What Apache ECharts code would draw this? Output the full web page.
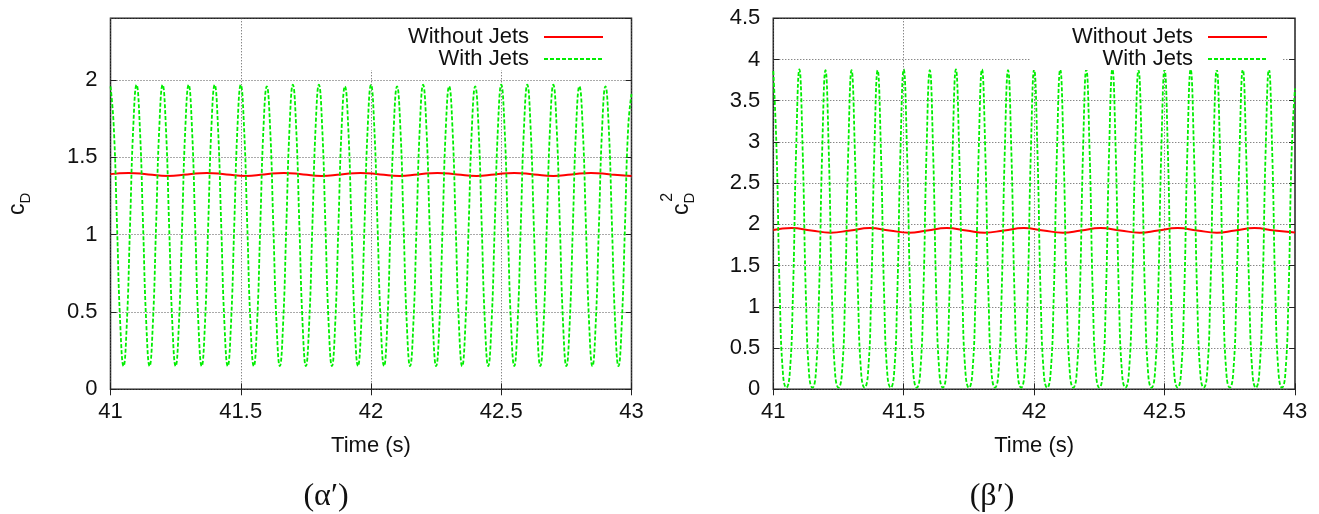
<!DOCTYPE html>
<html><head><meta charset="utf-8">
<script src="https://cdn.jsdelivr.net/npm/echarts/dist/echarts.min.js"></script>
<style>html,body{margin:0;padding:0;background:#fff}#c{width:1319px;height:514px}</style>
</head><body><div id="c"></div><script>
// ---- data ----
const timeRange = [41, 43];
const timeNoJets = [41, 41.07, 41.145, 41.22, 41.295, 41.37, 41.445, 41.52, 41.59, 41.665, 41.74, 41.81, 41.885, 41.96,
  42.035, 42.11, 42.18, 42.255, 42.33, 42.405, 42.475, 42.55, 42.625, 42.7, 42.77, 42.845, 42.92, 43];
const cdNoJets = [1.392, 1.400, 1.390, 1.380, 1.390, 1.400, 1.390, 1.380, 1.390, 1.400, 1.390, 1.380, 1.390, 1.400,
  1.390, 1.380, 1.390, 1.400, 1.390, 1.380, 1.390, 1.400, 1.390, 1.380, 1.390, 1.400, 1.390, 1.380];
const cd2NoJets = [1.932, 1.955, 1.927, 1.900, 1.927, 1.955, 1.927, 1.900, 1.927, 1.955, 1.927, 1.900, 1.927, 1.955,
  1.927, 1.900, 1.927, 1.955, 1.927, 1.900, 1.927, 1.955, 1.927, 1.900, 1.927, 1.955, 1.927, 1.902];
const timeJets = [
  41, 41.0125, 41.025, 41.0375, 41.05, 41.0625, 41.075, 41.0875,
  41.1, 41.1125, 41.125, 41.1375, 41.15, 41.1625, 41.175, 41.1875,
  41.2, 41.2125, 41.225, 41.2375, 41.25, 41.2625, 41.275, 41.2875,
  41.3, 41.3125, 41.325, 41.3375, 41.35, 41.3625, 41.375, 41.3875,
  41.4, 41.4125, 41.425, 41.4375, 41.45, 41.4625, 41.475, 41.4875,
  41.5, 41.5125, 41.525, 41.5375, 41.55, 41.5625, 41.575, 41.5875,
  41.6, 41.6125, 41.625, 41.6375, 41.65, 41.6625, 41.675, 41.6875,
  41.7, 41.7125, 41.725, 41.7375, 41.75, 41.7625, 41.775, 41.7875,
  41.8, 41.8125, 41.825, 41.8375, 41.85, 41.8625, 41.875, 41.8875,
  41.9, 41.9125, 41.925, 41.9375, 41.95, 41.9625, 41.975, 41.9875,
  42, 42.0125, 42.025, 42.0375, 42.05, 42.0625, 42.075, 42.0875,
  42.1, 42.1125, 42.125, 42.1375, 42.15, 42.1625, 42.175, 42.1875,
  42.2, 42.2125, 42.225, 42.2375, 42.25, 42.2625, 42.275, 42.2875,
  42.3, 42.3125, 42.325, 42.3375, 42.35, 42.3625, 42.375, 42.3875,
  42.4, 42.4125, 42.425, 42.4375, 42.45, 42.4625, 42.475, 42.4875,
  42.5, 42.5125, 42.525, 42.5375, 42.55, 42.5625, 42.575, 42.5875,
  42.6, 42.6125, 42.625, 42.6375, 42.65, 42.6625, 42.675, 42.6875,
  42.7, 42.7125, 42.725, 42.7375, 42.75, 42.7625, 42.775, 42.7875,
  42.8, 42.8125, 42.825, 42.8375, 42.85, 42.8625, 42.875, 42.8875,
  42.9, 42.9125, 42.925, 42.9375, 42.95, 42.9625, 42.975, 42.9875,
  43];
const cdJets = [
  1.96, 1.70, 1.06, 0.42, 0.15, 0.42, 1.06, 1.70,
  1.97, 1.70, 1.06, 0.42, 0.15, 0.42, 1.06, 1.70,
  1.97, 1.70, 1.06, 0.42, 0.15, 0.42, 1.06, 1.70,
  1.97, 1.70, 1.06, 0.42, 0.15, 0.42, 1.06, 1.70,
  1.97, 1.70, 1.06, 0.42, 0.15, 0.42, 1.06, 1.70,
  1.97, 1.70, 1.06, 0.42, 0.15, 0.42, 1.06, 1.70,
  1.96, 1.70, 1.06, 0.42, 0.15, 0.42, 1.06, 1.70,
  1.97, 1.70, 1.06, 0.42, 0.15, 0.42, 1.06, 1.70,
  1.97, 1.70, 1.06, 0.42, 0.15, 0.42, 1.06, 1.70,
  1.96, 1.70, 1.06, 0.42, 0.15, 0.42, 1.06, 1.70,
  1.97, 1.70, 1.06, 0.42, 0.15, 0.42, 1.06, 1.70,
  1.96, 1.70, 1.06, 0.42, 0.15, 0.42, 1.06, 1.70,
  1.97, 1.70, 1.06, 0.42, 0.15, 0.42, 1.06, 1.70,
  1.96, 1.70, 1.06, 0.42, 0.15, 0.42, 1.06, 1.70,
  1.96, 1.70, 1.06, 0.42, 0.15, 0.42, 1.06, 1.70,
  1.97, 1.70, 1.06, 0.42, 0.15, 0.42, 1.06, 1.70,
  1.97, 1.70, 1.06, 0.42, 0.15, 0.42, 1.06, 1.70,
  1.97, 1.70, 1.06, 0.42, 0.15, 0.42, 1.06, 1.70,
  1.96, 1.70, 1.06, 0.42, 0.15, 0.42, 1.06, 1.70,
  1.96, 1.70, 1.06, 0.42, 0.15, 0.42, 1.06, 1.70,
  1.91];
const cd2Jets = [
  3.86, 2.90, 1.12, 0.17, 0.02, 0.17, 1.12, 2.90,
  3.88, 2.90, 1.12, 0.17, 0.02, 0.17, 1.12, 2.90,
  3.87, 2.90, 1.12, 0.17, 0.02, 0.17, 1.12, 2.90,
  3.87, 2.90, 1.12, 0.17, 0.02, 0.17, 1.12, 2.90,
  3.87, 2.90, 1.12, 0.17, 0.02, 0.17, 1.12, 2.90,
  3.88, 2.90, 1.12, 0.17, 0.02, 0.17, 1.12, 2.90,
  3.87, 2.90, 1.12, 0.17, 0.02, 0.17, 1.12, 2.90,
  3.88, 2.90, 1.12, 0.17, 0.02, 0.17, 1.12, 2.90,
  3.88, 2.90, 1.12, 0.17, 0.02, 0.17, 1.12, 2.90,
  3.87, 2.90, 1.12, 0.17, 0.02, 0.17, 1.12, 2.90,
  3.88, 2.90, 1.12, 0.17, 0.02, 0.17, 1.12, 2.90,
  3.88, 2.90, 1.12, 0.17, 0.02, 0.17, 1.12, 2.90,
  3.88, 2.90, 1.12, 0.17, 0.02, 0.17, 1.12, 2.90,
  3.88, 2.90, 1.12, 0.17, 0.02, 0.17, 1.12, 2.90,
  3.87, 2.90, 1.12, 0.17, 0.02, 0.17, 1.12, 2.90,
  3.88, 2.90, 1.12, 0.17, 0.02, 0.17, 1.12, 2.90,
  3.88, 2.90, 1.12, 0.17, 0.02, 0.17, 1.12, 2.90,
  3.88, 2.90, 1.12, 0.17, 0.02, 0.17, 1.12, 2.90,
  3.88, 2.90, 1.12, 0.17, 0.02, 0.17, 1.12, 2.90,
  3.88, 2.90, 1.12, 0.17, 0.02, 0.17, 1.12, 2.90,
  3.65];
const seriesNames = ['Without Jets', 'With Jets'];
const xAxisTitle = 'Time (s)';
const yRangeLeft = [0, 2.4];
const yRangeRight = [0, 4.5];
const tickStep = 0.5;
const panelLabels = ['(\u03b1\u2032)', '(\u03b2\u2032)'];

// ---- chart ----
const FONT = '"Liberation Sans", Arial, Helvetica, sans-serif';
const SERIF = '"Liberation Serif", "DejaVu Serif", serif';
const TXT = '#111';
const pair = (xs, ys) => xs.map((x, i) => [x, ys[i]]);

function xAxes(grid) {
  return [
    { gridIndex: grid, type: 'value', min: timeRange[0], max: timeRange[1], interval: tickStep, position: 'bottom',
      name: xAxisTitle, nameLocation: 'middle', nameGap: 46,
      nameTextStyle: { fontSize: 22, fontFamily: FONT, color: TXT },
      axisLine: { show: false },
      axisTick: { inside: true, length: 6, lineStyle: { color: '#222', width: 1 } },
      axisLabel: { margin: 12, fontSize: 22, fontFamily: FONT, color: TXT },
      splitLine: { show: true, lineStyle: { type: [1, 2], color: '#555', width: 1 } } },
    { gridIndex: grid, type: 'value', min: timeRange[0], max: timeRange[1], interval: tickStep, position: 'top',
      axisLine: { show: false },
      axisTick: { inside: true, length: 6, lineStyle: { color: '#222', width: 1 } },
      axisLabel: { show: false }, splitLine: { show: false } }
  ];
}
function yAxes(grid, range, nameText, rich, gap) {
  return [
    { gridIndex: grid, type: 'value', min: range[0], max: range[1], interval: tickStep, position: 'left',
      name: nameText, nameLocation: 'middle', nameRotate: 90, nameGap: gap,
      nameTextStyle: { fontFamily: FONT, color: TXT, rich: rich },
      axisLine: { show: false },
      axisTick: { inside: true, length: 6, lineStyle: { color: '#222', width: 1 } },
      axisLabel: { margin: 13, fontSize: 22, fontFamily: FONT, color: TXT, showMaxLabel: range[1] === 4.5 },
      splitLine: { show: true, lineStyle: { type: [1, 2], color: '#555', width: 1 } } },
    { gridIndex: grid, type: 'value', min: range[0], max: range[1], interval: tickStep, position: 'right',
      axisLine: { show: false },
      axisTick: { inside: true, length: 6, lineStyle: { color: '#222', width: 1 } },
      axisLabel: { show: false }, splitLine: { show: false } }
  ];
}
const richCd = {
  c: { fontSize: 23, fontFamily: FONT, color: TXT, verticalAlign: 'top', lineHeight: 22 },
  s: { fontSize: 15, fontFamily: FONT, color: TXT, verticalAlign: 'top', padding: [12, 0, 0, 0] }
};
const richCd2 = {
  c: { fontSize: 23, fontFamily: FONT, color: TXT, verticalAlign: 'top', lineHeight: 22 },
  s: { fontSize: 15, fontFamily: FONT, color: TXT, verticalAlign: 'top', padding: [12, 0, 0, 0] },
  sp: { width: 13, fontSize: 16, lineHeight: 6 },
  p: { fontSize: 16, fontFamily: FONT, color: TXT, lineHeight: 6 }
};

function legendFor(rightPx) {
  return {
    orient: 'vertical', right: rightPx, top: 19.5, align: 'right',
    padding: [6.5, 14, 0, 42], itemGap: 0, itemWidth: 59, itemHeight: 1,
    backgroundColor: '#fff', selectedMode: false,
    itemStyle: { opacity: 0, borderWidth: 0 },
    textStyle: { fontSize: 22, fontFamily: FONT, color: TXT, lineHeight: 22, padding: [0, 10, 0, 0] },
    data: seriesNames
  };
}
function lineSeries(name, xi, yi, data, isJets) {
  return {
    name: name, type: 'line', xAxisIndex: xi, yAxisIndex: yi, data: data,
    symbol: 'none', showSymbol: false, smooth: true, z: isJets ? 3 : 2,
    lineStyle: isJets ? { color: '#00ee00', width: 1.8, type: [4, 2] } : { color: '#ff0000', width: 2 },
    itemStyle: { color: isJets ? '#00ee00' : '#ff0000' }
  };
}

const option = {
  animation: false,
  backgroundColor: '#ffffff',
  grid: [
    { left: 110.5, top: 18.3, width: 521, height: 371, show: true, borderColor: '#222', borderWidth: 1.5, backgroundColor: 'transparent' },
    { left: 773.3, top: 18.3, width: 521.7, height: 371, show: true, borderColor: '#222', borderWidth: 1.5, backgroundColor: 'transparent' }
  ],
  xAxis: [...xAxes(0), ...xAxes(1)],
  yAxis: [...yAxes(0, yRangeLeft, '{c|c}{s|D}', richCd, 77), ...yAxes(1, yRangeRight, '{sp|}{p|2}\n{c|c}{s|D}', richCd2, 76)],
  legend: [legendFor(701), legendFor(37)],
  title: [
    { text: panelLabels[0], left: 326, top: 481, padding: 0, textAlign: 'center',
      textStyle: { fontFamily: SERIF, fontSize: 32, fontWeight: 'normal', color: TXT } },
    { text: panelLabels[1], left: 992, top: 481, padding: 0, textAlign: 'center',
      textStyle: { fontFamily: SERIF, fontSize: 32, fontWeight: 'normal', color: TXT } }
  ],
  series: [
    lineSeries(seriesNames[0], 0, 0, pair(timeNoJets, cdNoJets), false),
    lineSeries(seriesNames[1], 0, 0, pair(timeJets, cdJets), true),
    lineSeries(seriesNames[0], 2, 2, pair(timeNoJets, cd2NoJets), false),
    lineSeries(seriesNames[1], 2, 2, pair(timeJets, cd2Jets), true)
  ]
};
const chart = echarts.init(document.getElementById('c'), null, { renderer: 'canvas' });
chart.setOption(option);
</script></body></html>
